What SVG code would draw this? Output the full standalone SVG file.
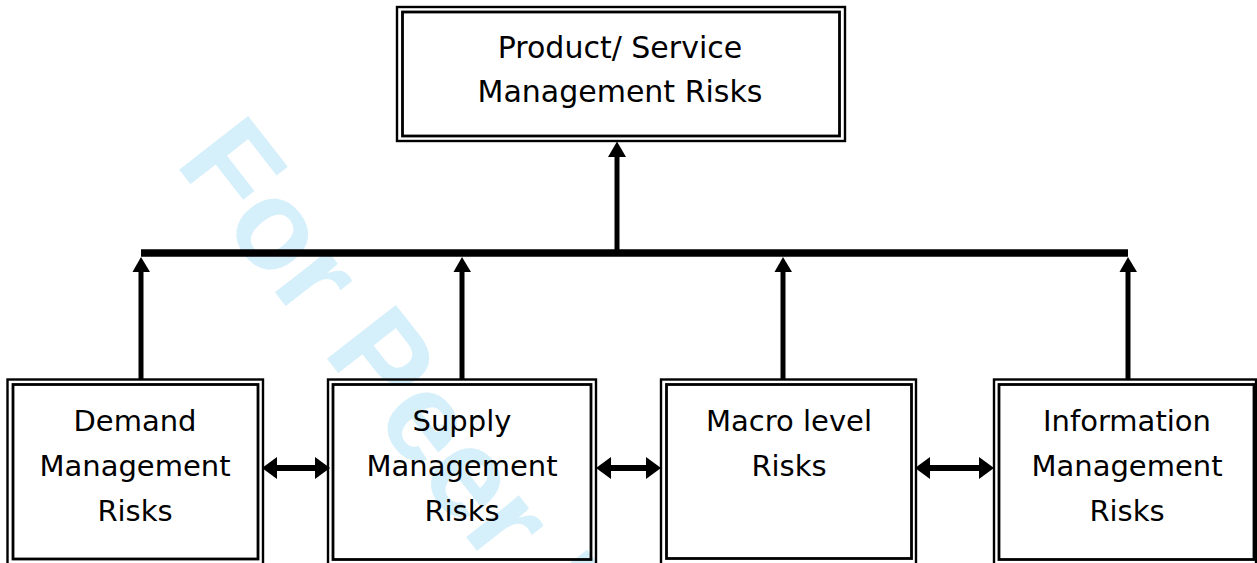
<svg xmlns="http://www.w3.org/2000/svg" width="1257" height="563" viewBox="0 0 1257 563">
<defs>
<style>
.o{fill:none;stroke:#000;stroke-width:2.4}
.i{fill:none;stroke:#000;stroke-width:2.8}
.t{font-family:"Comic Sans MS","DejaVu Sans",sans-serif;font-size:29px;fill:#000;text-anchor:middle}
.tt{font-size:30px}
.ln{stroke:#000;stroke-width:5;fill:none}
.bus{stroke:#000;stroke-width:7.5;fill:none}
.hl{stroke:#000;stroke-width:6;fill:none}
.ah{fill:#000}
.wm{font-family:"Liberation Sans",Arial,sans-serif;font-weight:bold;font-size:127px;fill:#d5effb}
</style>
</defs>
<rect width="1257" height="563" fill="#fff"/>
<text class="wm" transform="translate(174,163) rotate(52)">For Peer Review</text>

<g id="connectors">
<line class="bus" x1="141" y1="253" x2="1128" y2="253"/>
<line class="ln" x1="617" y1="253" x2="617" y2="155"/>
<polygon class="ah" points="617,141.5 608,157 626,157"/>
<line class="ln" x1="141" y1="379" x2="141" y2="270"/>
<polygon class="ah" points="141,257 132.5,272 150,272"/>
<line class="ln" x1="462" y1="379" x2="462" y2="270"/>
<polygon class="ah" points="462,257 453.5,272 471,272"/>
<line class="ln" x1="783" y1="379" x2="783" y2="270"/>
<polygon class="ah" points="783,257 774.5,272 792,272"/>
<line class="ln" x1="1128" y1="379" x2="1128" y2="270"/>
<polygon class="ah" points="1128,257 1119.5,272 1137,272"/>
<line class="hl" x1="275" y1="468" x2="317" y2="468"/>
<polygon class="ah" points="262,468 277,457 277,479"/>
<polygon class="ah" points="330,468 315,457 315,479"/>
<line class="hl" x1="609" y1="468" x2="648" y2="468"/>
<polygon class="ah" points="596,468 611,457 611,479"/>
<polygon class="ah" points="661,468 646,457 646,479"/>
<line class="hl" x1="928" y1="468" x2="981" y2="468"/>
<polygon class="ah" points="915,468 930,457 930,479"/>
<polygon class="ah" points="994,468 979,457 979,479"/>
</g>

<g id="top">
<rect class="o" x="397" y="7" width="448" height="134"/>
<rect class="i" x="402.5" y="12" width="437" height="124"/>
<text class="t tt" x="620" y="58">Product/ Service</text>
<text class="t tt" x="620" y="102">Management Risks</text>
</g>

<g id="demand">
<rect class="o" x="7.5" y="379.5" width="255.5" height="190"/>
<rect class="i" x="13" y="384.5" width="245" height="174.5"/>
<text class="t" x="135" y="431">Demand</text>
<text class="t" x="135" y="476">Management</text>
<text class="t" x="135" y="521">Risks</text>
</g>

<g id="supply">
<rect class="o" x="328" y="379.5" width="268" height="190"/>
<rect class="i" x="333" y="384.5" width="258" height="175"/>
<text class="t" x="462" y="431">Supply</text>
<text class="t" x="462" y="476">Management</text>
<text class="t" x="462" y="521">Risks</text>
</g>

<g id="macro">
<rect class="o" x="661" y="379.5" width="255" height="190"/>
<rect class="i" x="666.5" y="384.5" width="245" height="174"/>
<text class="t" x="789" y="431">Macro level</text>
<text class="t" x="789" y="476">Risks</text>
</g>

<g id="information">
<rect class="o" x="994" y="379.5" width="262" height="190"/>
<rect class="i" x="999" y="384.5" width="255" height="175"/>
<text class="t" x="1127" y="431">Information</text>
<text class="t" x="1127" y="476">Management</text>
<text class="t" x="1127" y="521">Risks</text>
</g>
</svg>
